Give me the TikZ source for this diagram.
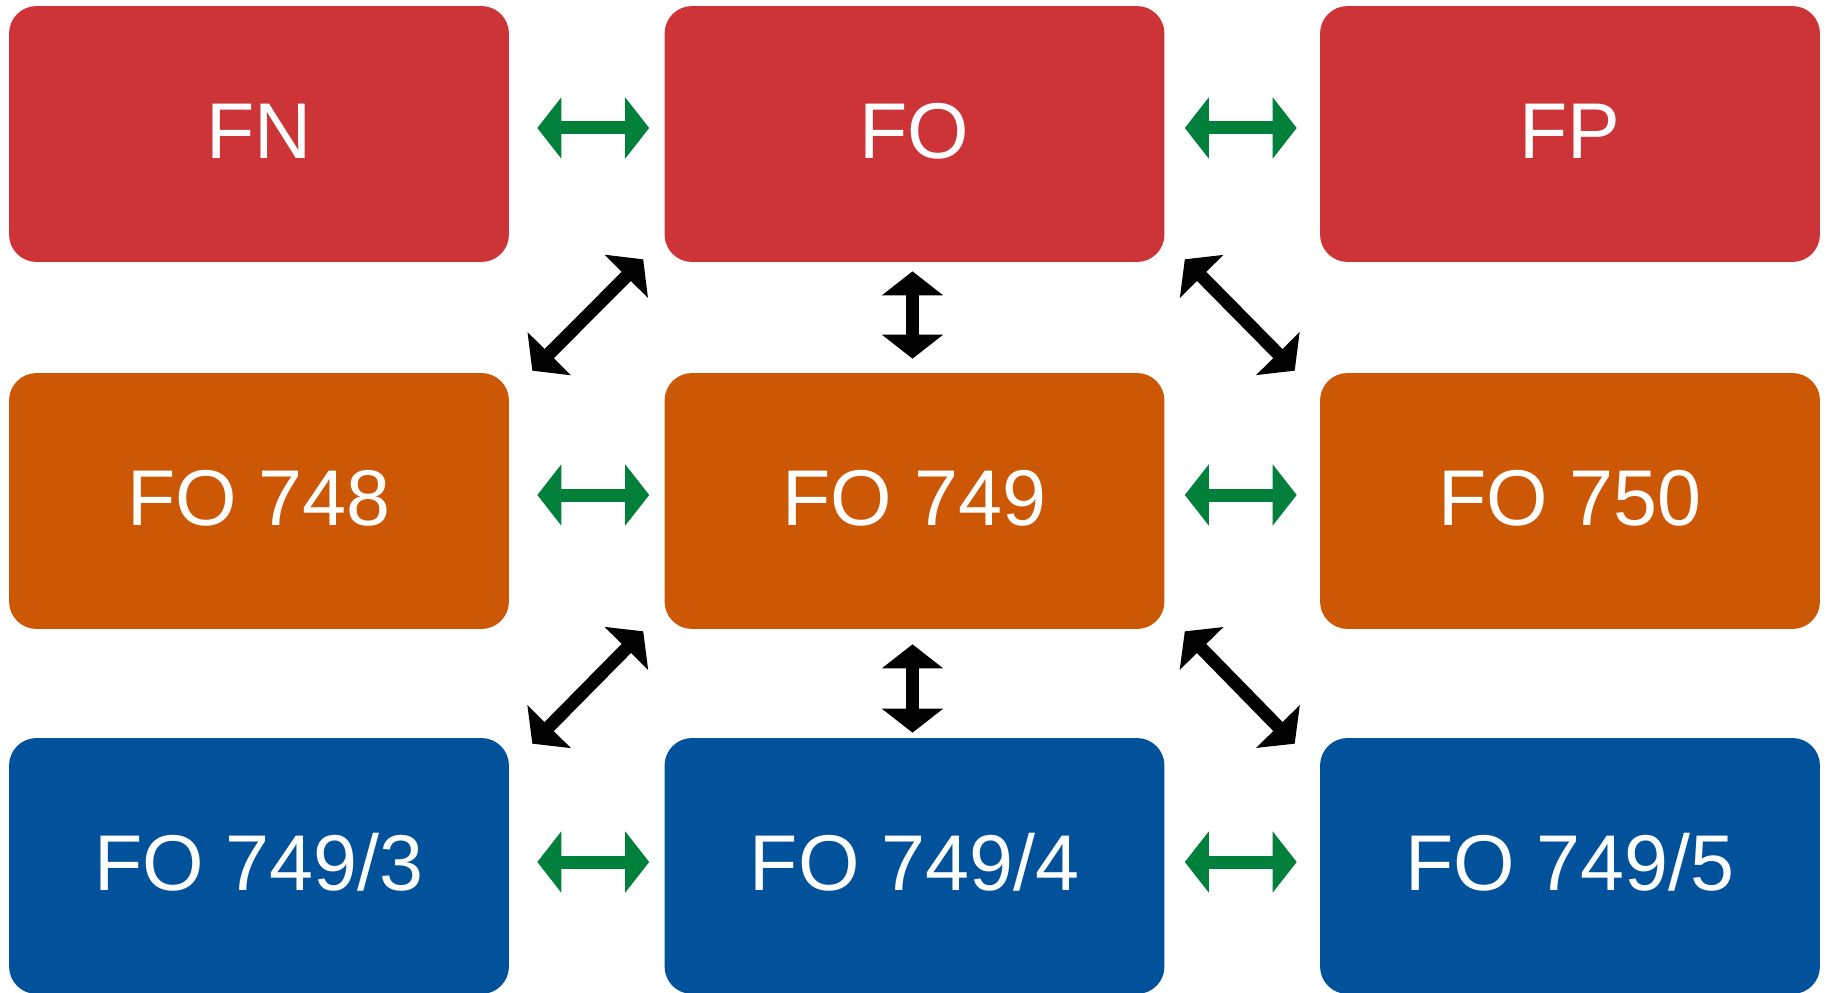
\documentclass[tikz,border=0pt]{standalone}
\usepackage{fontspec}
\setmainfont{Liberation Sans}
\usetikzlibrary{arrows.meta}

\definecolor{boxred}{RGB}{205,52,55}
\definecolor{boxorange}{RGB}{204,88,6}
\definecolor{boxblue}{RGB}{1,82,155}
\definecolor{linkgreen}{RGB}{0,128,58}

\tikzset{
  box/.style={rounded corners=0.55cm, minimum width=10cm, minimum height=5.12cm,
    inner sep=0pt, text height=1.14cm, text depth=0.16cm, text=white,
    font=\fontsize{45}{54}\selectfont},
  link/.style={line width=0.26cm, >={Triangle[length=0.48cm,width=1.2cm]}, <->},
  hlink/.style={link, linkgreen},
  vlink/.style={link, black}
}

\begin{document}
\begin{tikzpicture}[x=0.02cm, y=-0.02cm]
    \useasboundingbox (0,0) rectangle (1829,993);

    % top row
    \node[box, fill=boxred] (fn) at (259,134) {FN};
    \node[box, fill=boxred] (fo) at (914.5,134) {FO};
    \node[box, fill=boxred] (fp) at (1570,134) {FP};

    % middle row
    \node[box, fill=boxorange] (fo748) at (259,501) {FO 748};
    \node[box, fill=boxorange] (fo749) at (914.5,501) {FO 749};
    \node[box, fill=boxorange] (fo750) at (1570,501) {FO 750};

    % bottom row
    \node[box, fill=boxblue] (fo7493) at (259,866) {FO 749/3};
    \node[box, fill=boxblue] (fo7494) at (914.5,866) {FO 749/4};
    \node[box, fill=boxblue] (fo7495) at (1570,866) {FO 749/5};

    % green links within a row
    \draw[hlink] ([shift={(28,-6)}]fn.east) -- ([shift={(-15,-6)}]fo.west);
    \draw[hlink] ([shift={(20,-6)}]fo.east) -- ([shift={(-23,-6)}]fp.west);
    \draw[hlink] ([shift={(28,-6)}]fo748.east) -- ([shift={(-15,-6)}]fo749.west);
    \draw[hlink] ([shift={(20,-6)}]fo749.east) -- ([shift={(-23,-6)}]fo750.west);
    \draw[hlink] ([shift={(28,-4)}]fo7493.east) -- ([shift={(-15,-4)}]fo7494.west);
    \draw[hlink] ([shift={(20,-4)}]fo7494.east) -- ([shift={(-23,-4)}]fo7495.west);

    % black links between rows
    \draw[vlink] ([shift={(-2,9)}]fo.south) -- ([shift={(-2,-14)}]fo749.north);
    \draw[vlink] ([shift={(-2,15)}]fo749.south) -- ([shift={(-2,-5)}]fo7494.north);
    \draw[vlink] ([shift={(23,-2)}]fo748.north east) -- ([shift={(-21,-3)}]fo.south west);
    \draw[vlink] ([shift={(20,-3)}]fo.south east) -- ([shift={(-25,-2)}]fo750.north west);
    \draw[vlink] ([shift={(23,6)}]fo7493.north east) -- ([shift={(-21,2)}]fo749.south west);
    \draw[vlink] ([shift={(20,2)}]fo749.south east) -- ([shift={(-25,6)}]fo7495.north west);

\end{tikzpicture}
\end{document}
